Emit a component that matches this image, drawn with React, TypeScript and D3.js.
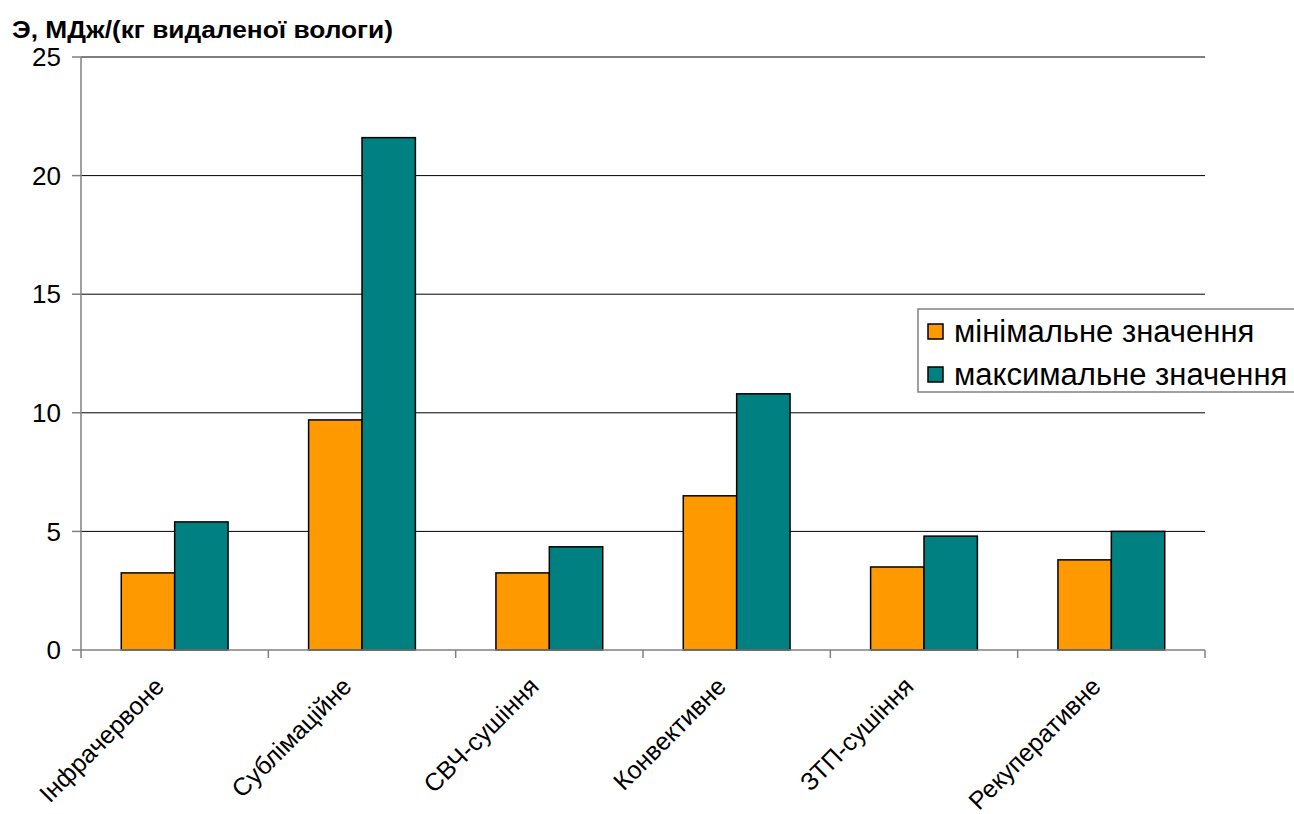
import React from "react";
import * as d3 from "d3";

const categories = ["Інфрачервоне", "Сублімаційне", "СВЧ-сушіння", "Конвективне", "ЗТП-сушіння", "Рекуперативне"];
const seriesNames = ["мінімальне значення", "максимальне значення"];
const minValues = [3.25, 9.7, 3.25, 6.5, 3.5, 3.8];
const maxValues = [5.4, 21.6, 4.35, 10.8, 4.8, 5.0];
const yTicks = [0, 5, 10, 15, 20, 25];
const colors = ["#FF9900", "#008080"];
const title = "Э, МДж/(кг видаленої вологи)";

const W = 1294, H = 814;
const left = 81, right = 1205, top = 57, bottom = 650;

export default function App() {
  const x = d3.scaleBand<string>().domain(categories).range([left, right]).paddingInner(0.43).paddingOuter(0.215);
  const x1 = d3.scaleBand<string>().domain(seriesNames).range([0, x.bandwidth()]);
  const y = d3.scaleLinear().domain([0, 25]).range([bottom, top]);
  const seriesValues = [minValues, maxValues];
  const step = (right - left) / categories.length;
  const boundaries = d3.range(categories.length + 1).map(i => left + i * step);
  const font = "Arial, 'Liberation Sans', sans-serif";

  return (
    <svg width={W} height={H} style={{ position: "absolute", left: 0, top: 0, background: "#fff" }} fontFamily={font}>
      <text x={12} y={38} fontSize={24} fontWeight="bold" fill="#000" textLength={381} lengthAdjust="spacingAndGlyphs">{title}</text>
      {yTicks.filter(t => t > 0).map(t => (
        <line key={"g" + t} x1={left} x2={right} y1={y(t)} y2={y(t)} stroke="#000" strokeWidth={1} />
      ))}
      {yTicks.map(t => (
        <g key={"yt" + t}>
          <line x1={left - 9} x2={left} y1={y(t)} y2={y(t)} stroke="#808080" strokeWidth={1.5} />
          <text x={left - 20} y={y(t)} dy="0.35em" textAnchor="end" fontSize={26} fill="#000">{t}</text>
        </g>
      ))}
      <line x1={left} x2={left} y1={top} y2={bottom} stroke="#808080" strokeWidth={1.5} />
      {categories.map((c, i) => (
        <g key={c}>
          {seriesNames.map((s, j) => (
            <rect key={s} x={(x(c) as number) + (x1(s) as number)} y={y(seriesValues[j][i])}
              width={x1.bandwidth()} height={bottom - y(seriesValues[j][i])}
              fill={colors[j]} stroke="#000" strokeWidth={1.5} />
          ))}
        </g>
      ))}
      <line x1={left} x2={right} y1={bottom} y2={bottom} stroke="#808080" strokeWidth={1.5} />
      {boundaries.map((b, i) => (
        <line key={"xt" + i} x1={b} x2={b} y1={bottom} y2={bottom + 8} stroke="#808080" strokeWidth={1.5} />
      ))}
      {categories.map(c => {
        const cx = (x(c) as number) + x.bandwidth() / 2 - 9;
        const cy = bottom + 38;
        return (
          <text key={"l" + c} x={cx} y={cy} textAnchor="end" fontSize={25} fill="#000"
            transform={`rotate(-45 ${cx} ${cy})`}>{c}</text>
        );
      })}
      <g>
        <rect x={918} y={309} width={400} height={83} fill="#fff" stroke="#808080" strokeWidth={1.5} />
        {seriesNames.map((s, j) => (
          <g key={"lg" + s}>
            <rect x={928} y={324 + j * 43} width={15} height={15} fill={colors[j]} stroke="#000" strokeWidth={1.5} />
            <text x={954} y={342 + j * 43} fontSize={31} fill="#000">{s}</text>
          </g>
        ))}
      </g>
    </svg>
  );
}
